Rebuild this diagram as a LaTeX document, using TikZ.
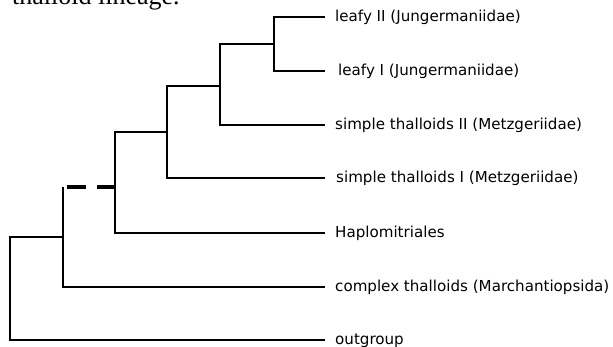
\documentclass[tikz,border=0pt]{standalone}
\usepackage{fontspec}
\setmainfont{Liberation Serif}
\newfontfamily\taxonfont{DejaVu Sans}
\begin{document}
\begin{tikzpicture}[x=1pt,y=-1pt,
  branch/.style={line width=2.4pt, line join=miter},
  stemdash/.style={line width=4.8pt, dash pattern=on 18pt off 11pt on 19pt off 20pt},
  taxon/.style={anchor=base west, inner sep=0pt, font=\taxonfont\fontsize{15.1}{18}\selectfont},
  caption/.style={anchor=base west, inner sep=0pt, font=\fontsize{26}{30}\selectfont}]
  \useasboundingbox (0,0) rectangle (613,347);
  \clip (0,0) rectangle (613,347);

  % caption line running off the top edge
  \node[caption] (cap) at (12,5) {thalloid lineage.};

  % leaf tips
  \coordinate (t1) at (325,17);
  \coordinate (t2) at (325,71);
  \coordinate (t3) at (325,125);
  \coordinate (t4) at (325,178);
  \coordinate (t5) at (325,233);
  \coordinate (t6) at (325,287);
  \coordinate (t7) at (325,340);

  % taxon labels
  \node[taxon] (l1) at (335,21.5) {leafy II (Jungermaniidae)};
  \node[taxon] (l2) at (338,75.5) {leafy I (Jungermaniidae)};
  \node[taxon] (l3) at (335,129.5) {simple thalloids II (Metzgeriidae)};
  \node[taxon] (l4) at (336,182.5) {simple thalloids I (Metzgeriidae)};
  \node[taxon] (l5) at (335,237.5) {Haplomitriales};
  \node[taxon] (l6) at (335,291.8) {complex thalloids (Marchantiopsida)};
  \node[taxon] (l7) at (335,344.2) {outgroup};

  % internal nodes
  \coordinate (n1) at (274,44);
  \coordinate (n2) at (220,86);
  \coordinate (n3) at (167,132);
  \coordinate (n4) at (115,187);
  \coordinate (n5top) at (63,187);
  \coordinate (n5) at (63,237);
  \coordinate (root) at (10,237);

  % tree branches
  \draw[branch] (t1) -| (n1) |- (t2);
  \draw[branch] (n1) -| (n2) |- (t3);
  \draw[branch] (n2) -| (n3) |- (t4);
  \draw[branch] (n3) -| (n4) |- (t5);
  \draw[branch] (n5top) |- (t6);
  \draw[branch] (n5) -| (root) |- (t7);
  \draw[stemdash] (n4) -- (n5top);
\end{tikzpicture}
\end{document}
